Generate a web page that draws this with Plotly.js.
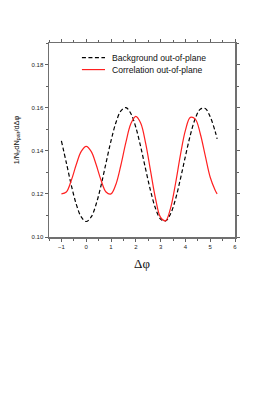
<!DOCTYPE html>
<html><head><meta charset="utf-8">
<script src="https://cdn.plot.ly/plotly-3.0.1.min.js"></script>
<style>html,body{margin:0;padding:0;background:#fff;}#c{width:273px;height:397px;}</style>
</head><body><div id="c"></div>
<script>
var dphi = [-1.0,-0.8,-0.6,-0.4,-0.2,0.0,0.2,0.4,0.6,0.8,1.0,1.2,1.4,1.6,1.8,2.0,2.2,2.4,2.6,2.8,3.0,3.2,3.4,3.6,3.8,4.0,4.2,4.4,4.6,4.8,5.0,5.2,5.28];
var background = [0.1446,0.1344,0.1240,0.1152,0.1093,0.1072,0.1093,0.1152,0.1240,0.1344,0.1446,0.1531,0.1585,0.1600,0.1573,0.1509,0.1417,0.1313,0.1212,0.1131,0.1083,0.1074,0.1107,0.1175,0.1270,0.1374,0.1473,0.1550,0.1593,0.1596,0.1558,0.1490,0.1455];
var correlation = [0.1200,0.1209,0.1263,0.1336,0.1397,0.1420,0.1397,0.1336,0.1263,0.1209,0.1200,0.1245,0.1334,0.1439,0.1525,0.1560,0.1528,0.1433,0.1303,0.1176,0.1091,0.1075,0.1133,0.1247,0.1381,0.1495,0.1555,0.1547,0.1479,0.1377,0.1277,0.1217,0.1200];
var seriesNames = ['Background out-of-plane','Correlation out-of-plane'];
var seriesColors = ['#000000','#ff2020'];
var seriesDash = ['4px,2.5px','solid'];
var xTicks = [-1,0,1,2,3,4,5,6];
var yTicks = [0.10,0.12,0.14,0.16,0.18];
var yTickText = ['0.10','0.12','0.14','0.16','0.18'];

var traces = [
  {x: dphi, y: background, mode:'lines', name:seriesNames[0],
   line:{color:seriesColors[0], width:1.2, dash:seriesDash[0], shape:'spline'}},
  {x: dphi, y: correlation, mode:'lines', name:seriesNames[1],
   line:{color:seriesColors[1], width:1.2, dash:seriesDash[1], shape:'spline'}}
];
// manual compact legend (paper coordinates)
var legY = [0.925, 0.863];
var shapes = [], annotations = [];
for (var i = 0; i < 2; i++) {
  shapes.push({type:'line', xref:'paper', yref:'paper', x0:0.177, x1:0.301, y0:legY[i], y1:legY[i],
    line:{color:seriesColors[i], width:1.2, dash:seriesDash[i]}});
  annotations.push({xref:'paper', yref:'paper', x:0.328, y:legY[i], xanchor:'left', yanchor:'middle',
    text:seriesNames[i], showarrow:false, font:{family:'Arial', size:8.6, color:'#111'}});
}
var axCommon = {
  showline:true, linecolor:'#707070', linewidth:1.5, mirror:'ticks',
  ticks:'outside', ticklen:3, tickwidth:1, tickcolor:'#606060',
  showgrid:false, zeroline:false,
  tickfont:{family:'Arial', size:6, color:'#222'}
};
var layout = {
  width:273, height:397,
  margin:{l:49, r:38, t:43, b:160},
  paper_bgcolor:'#fff', plot_bgcolor:'#fff',
  showlegend:false,
  shapes: shapes, annotations: annotations,
  xaxis: Object.assign({}, axCommon, {
    range:[-1.5,6], tickmode:'array', tickvals:xTicks,
    minor:{dtick:0.5, tick0:0, ticks:'outside', ticklen:2, tickcolor:'#606060'},
    title:{text:'Δφ', standoff:10, font:{family:'Times New Roman', size:13, color:'#111'}}
  }),
  yaxis: Object.assign({}, axCommon, {
    range:[0.10,0.19], tickmode:'array', tickvals:yTicks, ticktext:yTickText,
    minor:{dtick:0.01, tick0:0, ticks:'outside', ticklen:2, tickcolor:'#606060'},
    title:{text:'1/N<sub>tr</sub>dN<sub>pair</sub>/dΔφ', standoff:11, font:{family:'Arial', size:7.4, color:'#111'}}
  })
};
Plotly.newPlot('c', traces, layout, {staticPlot:true, displayModeBar:false});
</script></body></html>
